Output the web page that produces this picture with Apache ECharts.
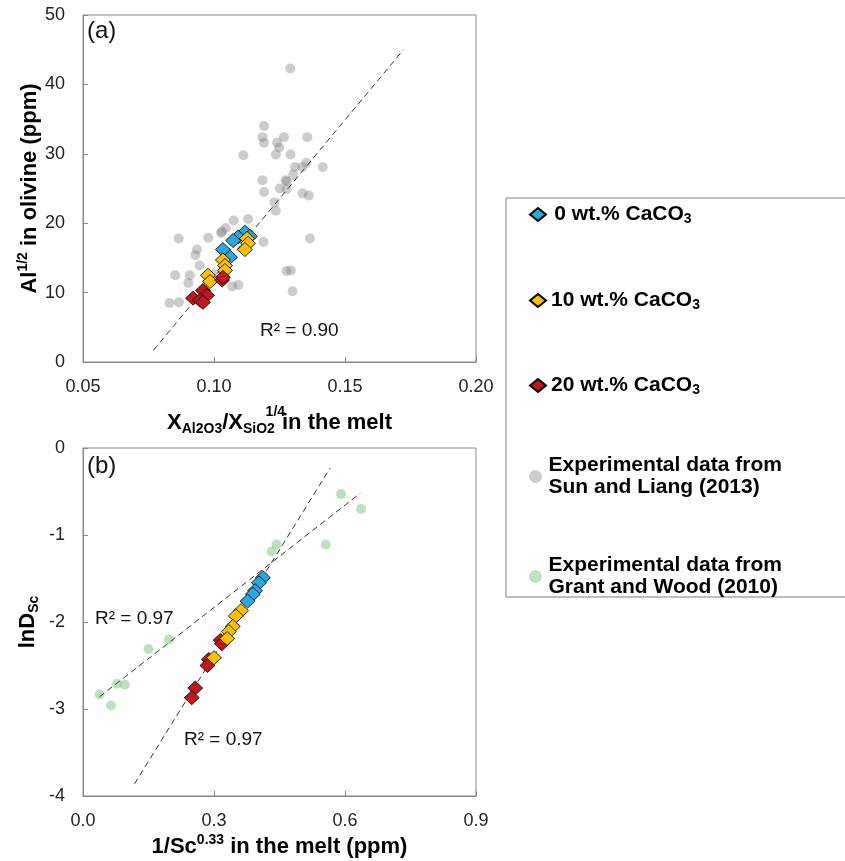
<!DOCTYPE html>
<html>
<head>
<meta charset="utf-8">
<script src="https://cdn.jsdelivr.net/npm/echarts@6/dist/echarts.min.js"></script>
<style>html,body{margin:0;padding:0;background:#fff;}#c{width:845px;height:861px;}</style>
</head>
<body>
<div id="c"></div>
<script>
// ---------- DATA ----------
const seriesNames = ['0 wt.% CaCO3', '10 wt.% CaCO3', '20 wt.% CaCO3',
  'Experimental data from Sun and Liang (2013)', 'Experimental data from Grant and Wood (2010)'];

// Panel (a): Al^1/2 in olivine vs X_Al2O3/X_SiO2^1/4
const sunLiang = [
  [0.1291,42.3],[0.1191,34.0],[0.1185,32.4],[0.1191,31.6],[0.1267,32.4],[0.1241,31.6],
  [0.1249,30.9],[0.1236,29.9],[0.1356,32.4],[0.1112,29.8],[0.1292,29.9],[0.1309,28.1],
  [0.1337,28.1],[0.1353,28.7],[0.1415,28.1],[0.1185,26.2],[0.1273,26.2],[0.1278,26.0],
  [0.1302,27.0],[0.1251,25.0],[0.1277,24.9],[0.1191,24.5],[0.1338,24.3],[0.1362,24.0],
  [0.1231,23.0],[0.1236,21.8],[0.1075,20.4],[0.1130,20.6],[0.1045,19.3],[0.1027,18.6],
  [0.1030,18.8],[0.0978,17.9],[0.0865,17.8],[0.1366,17.8],[0.1189,17.3],[0.0935,16.2],
  [0.0929,15.4],[0.0945,13.9],[0.0852,12.5],[0.0908,12.5],[0.0902,11.4],[0.1277,13.1],
  [0.1293,13.2],[0.1300,10.2],[0.1093,11.1],[0.1069,10.9],[0.0830,8.5],[0.0866,8.6],
  [0.1000,12.6],[0.1060,15.0]
];
const top0 = [[0.1118,18.7],[0.1137,18.1],[0.1092,18.0],[0.1073,17.5],[0.1034,16.2],[0.1061,15.1]];
const top10 = [[0.1126,17.8],[0.1130,17.1],[0.1118,16.2],[0.1034,14.7],[0.1042,13.9],
  [0.1042,13.2],[0.0977,12.5],[0.0985,11.6]];
const top20 = [[0.1031,11.8],[0.1034,12.2],[0.0958,10.3],[0.0973,9.6],[0.0920,9.2],
  [0.0947,8.9],[0.0958,8.6]];
const topFit = [[0.0769,1.7],[0.1723,45.0]];

// Panel (b): lnD_Sc vs 1/Sc^0.33
const grantWood = [
  [0.591,-0.53],[0.637,-0.70],[0.556,-1.11],[0.443,-1.11],[0.432,-1.19],[0.197,-2.20],
  [0.150,-2.31],[0.078,-2.71],[0.096,-2.72],[0.038,-2.83],[0.064,-2.96]
];
const bot0 = [[0.412,-1.49],[0.403,-1.55],[0.394,-1.64],[0.389,-1.68],[0.377,-1.76]];
const bot10 = [[0.362,-1.87],[0.350,-1.93],[0.343,-2.05],[0.334,-2.11],[0.330,-2.19],[0.300,-2.41]];
const bot20 = [[0.315,-2.21],[0.318,-2.25],[0.288,-2.43],[0.285,-2.50],[0.257,-2.76],[0.249,-2.87]];
const botFitSteep = [[0.118,-3.86],[0.566,-0.23]];
const botFitShallow = [[0.038,-2.86],[0.635,-0.52]];

const xTicksA = {min: 0.05, max: 0.20, interval: 0.05};
const yTicksA = {min: 0, max: 50, interval: 10};
const xTicksB = {min: 0, max: 0.9, interval: 0.3};
const yTicksB = {min: -4, max: 0, interval: 1};

// ---------- STYLE ----------
const FONT = '"Liberation Sans", Arial, sans-serif';
const C_BLUE = '#29a8e0', C_YEL = '#ffc000', C_RED = '#c1161c';
const C_GRAY = 'rgba(128,128,128,0.5)', C_GREEN = 'rgba(120,190,120,0.6)';
const AX = '#868686';

const titleRich = {
  m: {fontFamily: FONT, fontWeight: 'bold', fontSize: 22, color: '#000'},
  s: {fontFamily: FONT, fontWeight: 'bold', fontSize: 14, color: '#000', padding: [12,0,0,0]},
  sup: {fontFamily: FONT, fontWeight: 'bold', fontSize: 14, color: '#000', padding: [0,0,14,0]},
  supst: {fontFamily: FONT, fontWeight: 'bold', fontSize: 14, color: '#000', padding: [0,0,22,0], width: 1, align: 'right'}
};

function xAxis(gi, t, dec, name, gap) {
  return {
    type: 'value', gridIndex: gi, min: t.min, max: t.max, interval: t.interval,
    axisLine: {show: true, onZero: false, lineStyle: {color: AX, width: 1}},
    axisTick: {show: true, inside: true, length: 5, lineStyle: {color: AX}},
    splitLine: {show: false},
    axisLabel: {fontFamily: FONT, fontSize: 18, color: '#222', margin: 16,
      formatter: v => v.toFixed(dec)},
    name: name, nameLocation: 'middle', nameGap: gap,
    nameTextStyle: {rich: titleRich}
  };
}
function yAxis(gi, t, name, gap) {
  return {
    type: 'value', gridIndex: gi, min: t.min, max: t.max, interval: t.interval,
    axisLine: {show: true, onZero: false, lineStyle: {color: AX, width: 1}},
    axisTick: {show: true, inside: true, length: 5, lineStyle: {color: AX}},
    splitLine: {show: false},
    axisLabel: {fontFamily: FONT, fontSize: 18, color: '#222', margin: 18},
    name: name, nameLocation: 'middle', nameGap: gap,
    nameTextStyle: {rich: titleRich}
  };
}

function diamonds(name, data, color, gi) {
  return {
    name: name, type: 'scatter', xAxisIndex: gi, yAxisIndex: gi, data: data,
    symbol: 'diamond', symbolSize: [15, 14],
    itemStyle: {color: color, borderColor: '#000', borderWidth: 0.8, opacity: 1},
    z: 5
  };
}
function dots(name, data, color, gi, size) {
  return {
    name: name, type: 'scatter', xAxisIndex: gi, yAxisIndex: gi, data: data,
    symbol: 'circle', symbolSize: size,
    itemStyle: {color: color, borderWidth: 0},
    z: 2
  };
}
function fit(data, gi) {
  return {
    type: 'line', xAxisIndex: gi, yAxisIndex: gi, data: data, symbol: 'none',
    lineStyle: {color: '#333', width: 1, type: [6, 4]}, silent: true, z: 3
  };
}

const legendRich = {
  b: {fontFamily: FONT, fontWeight: 'bold', fontSize: 21, color: '#000', lineHeight: 22},
  s: {fontFamily: FONT, fontWeight: 'bold', fontSize: 14, color: '#000', padding: [10,0,0,0]}
};
const legendText = {
  '0 wt.% CaCO3': ' {b|0 wt.% CaCO}{s|3}',
  '10 wt.% CaCO3': '{b|10 wt.% CaCO}{s|3}',
  '20 wt.% CaCO3': '{b|20 wt.% CaCO}{s|3}',
  'Experimental data from Sun and Liang (2013)': '{b|Experimental data from}\n{b|Sun and Liang (2013)}',
  'Experimental data from Grant and Wood (2010)': '{b|Experimental data from}\n{b|Grant and Wood (2010)}'
};
const legendTops = [204, 290, 375, 455, 555];
const legends = seriesNames.map((n, i) => ({
  data: [n], left: 529, top: legendTops[i], orient: 'vertical', padding: 0,
  itemWidth: 16, itemHeight: 13, selectedMode: false,
  formatter: name => legendText[name],
  textStyle: {rich: legendRich}
}));

const labelStyle = {fontFamily: FONT, fontSize: 19, fill: '#111'};

const option = {
  animation: false,
  backgroundColor: '#fff',
  grid: [
    {left: 83, top: 15, width: 393, height: 347, show: true, borderColor: AX, borderWidth: 1, backgroundColor: 'transparent'},
    {left: 83, top: 448, width: 393, height: 348, show: true, borderColor: AX, borderWidth: 1, backgroundColor: 'transparent'}
  ],
  xAxis: [
    xAxis(0, xTicksA, 2, '{m|X}{s|Al2O3}{m|/X}{s|SiO2}{supst|1/4}{m| in the melt}', 43),
    xAxis(1, xTicksB, 1, '{m|1/Sc}{sup|0.33}{m| in the melt (ppm)}', 37)
  ],
  yAxis: [
    yAxis(0, yTicksA, '{m|Al}{sup|1/2}{m| in olivine (ppm)}', 39),
    yAxis(1, yTicksB, '{m|lnD}{s|Sc}', 42)
  ],
  legend: legends,
  series: [
    dots(seriesNames[3], sunLiang, C_GRAY, 0, 10),
    fit(topFit, 0),
    diamonds(seriesNames[0], top0, C_BLUE, 0),
    diamonds(seriesNames[1], top10, C_YEL, 0),
    diamonds(seriesNames[2], top20, C_RED, 0),
    dots(seriesNames[4], grantWood, C_GREEN, 1, 10),
    fit(botFitSteep, 1),
    fit(botFitShallow, 1),
    diamonds(seriesNames[2], bot20, C_RED, 1),
    diamonds(seriesNames[1], bot10, C_YEL, 1),
    diamonds(seriesNames[0], bot0, C_BLUE, 1)
  ],
  graphic: [
    {type: 'rect', shape: {x: 506, y: 198, width: 345, height: 399},
      style: {fill: 'none', stroke: '#7f7f7f', lineWidth: 1}, z: -1, silent: true},
    {type: 'text', left: 87, top: 19, style: {text: '(a)', fontFamily: FONT, fontSize: 24, fill: '#111'}},
    {type: 'text', left: 87, top: 454, style: {text: '(b)', fontFamily: FONT, fontSize: 24, fill: '#111'}},
    {type: 'text', left: 260, top: 321, style: Object.assign({text: 'R² = 0.90'}, labelStyle)},
    {type: 'text', left: 95, top: 609, style: Object.assign({text: 'R² = 0.97'}, labelStyle)},
    {type: 'text', left: 184, top: 730, style: Object.assign({text: 'R² = 0.97'}, labelStyle)}
  ]
};

const chart = echarts.init(document.getElementById('c'), null, {renderer: 'canvas'});
chart.setOption(option);
</script>
</body>
</html>
